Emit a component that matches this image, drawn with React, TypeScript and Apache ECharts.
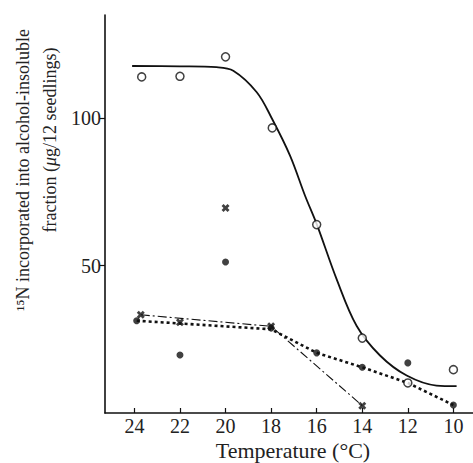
import React, { useEffect, useRef } from 'react';
import * as echarts from 'echarts';

// Temperature (°C) tick labels and value-axis tick labels
const tempTicks = [24, 22, 20, 18, 16, 14, 12, 10];
const valueTicks = [50, 100];

// Measured points: [temperature, µg/12 seedlings]
const openCircles = [[23.68, 114], [22, 114.2], [20, 120.8], [17.95, 96.7], [16, 63.9], [14, 25.4], [12, 10.2], [10, 14.7]];
const filledDots = [[23.9, 31.3], [22, 19.7], [20, 51.2], [18, 28.8], [16, 20.4], [14, 15.5], [12, 17], [10, 2.7]];
const crosses = [[23.72, 33.3], [22, 30.8], [20, 69.5], [18, 29.4], [14, 2.5]];

// Fitted / hand-drawn lines
const fittedCurve = [[24.1, 117.7], [22, 117.6], [20.4, 117.3], [19.66, 116.1], [18.63, 108.8], [17.96, 99.8], [17.17, 87.3], [16.51, 73.7], [15.99, 63.9], [15.13, 45.5], [14.25, 29.6], [13.22, 19.5], [12.05, 12.7], [10.74, 9.3], [9.86, 9.1]];
const dottedLine = [[23.9, 31.3], [18, 28.4], [16, 20.4], [14, 15.5], [12, 10.2], [10, 2.7]];
const dashDotLine = [[23.72, 33.3], [18, 29.4], [14, 2.5]];

const FONT = '"Liberation Serif", "Times New Roman", serif';
const CROSS = 'path://M0,2.5 L2.5,0 L5,2.5 L7.5,0 L10,2.5 L7.5,5 L10,7.5 L7.5,10 L5,7.5 L2.5,10 L0,7.5 L2.5,5 Z';

export default function App() {
  const ref = useRef<HTMLDivElement>(null);
  useEffect(() => {
    if (!ref.current) return;
    const chart = echarts.init(ref.current, undefined, { renderer: 'svg' });
    chart.setOption({
      animation: false,
      backgroundColor: '#fff',
      grid: { left: 105, right: 0, top: 15, bottom: 50, containLabel: false },
      xAxis: {
        type: 'value',
        inverse: true,
        min: 9.14,
        max: 25.29,
        splitLine: { show: false },
        axisLine: { show: true, onZero: false, lineStyle: { color: '#111', width: 1.6 } },
        axisTick: { show: true, inside: true, length: 5, customValues: tempTicks, lineStyle: { color: '#111', width: 1.2 } },
        axisLabel: { customValues: tempTicks, fontSize: 20, fontFamily: FONT, color: '#222', margin: 3 },
      },
      yAxis: {
        type: 'value',
        min: 0,
        max: 135,
        splitLine: { show: false },
        axisLine: { show: true, onZero: false, lineStyle: { color: '#111', width: 1.6 } },
        axisTick: { show: true, inside: false, length: 5, customValues: valueTicks, lineStyle: { color: '#111', width: 1.2 } },
        axisLabel: { customValues: valueTicks, fontSize: 20, fontFamily: FONT, color: '#222', margin: 4 },
      },
      graphic: [
        {
          type: 'text', x: 23, y: 170, rotation: Math.PI / 2,
          style: { text: '¹⁵N incorporated into alcohol-insoluble', font: '18px ' + FONT, fill: '#222', align: 'center', verticalAlign: 'middle' },
        },
        {
          type: 'text', x: 50, y: 140, rotation: Math.PI / 2,
          style: {
            text: '{n|fraction (}{i|μ}{n|g/12 seedlings)}', fill: '#222', align: 'center', verticalAlign: 'middle',
            rich: {
              n: { fontSize: 18, fontFamily: FONT, fill: '#222' },
              i: { fontSize: 18, fontFamily: FONT, fontStyle: 'italic', fill: '#222' },
            },
          },
        },
        {
          type: 'text', x: 293, y: 451, scaleX: 1.1,
          style: { text: 'Temperature (°C)', font: '20px ' + FONT, fill: '#222', align: 'center', verticalAlign: 'middle' },
        },
      ],
      series: [
        {
          type: 'line', data: fittedCurve, smooth: 0.35, symbol: 'none',
          lineStyle: { color: '#111', width: 1.8 }, z: 2,
        },
        {
          type: 'line', data: dottedLine, smooth: false, symbol: 'none',
          lineStyle: { color: '#111', width: 2.6, type: [3, 3] }, z: 2,
        },
        {
          type: 'line', data: dashDotLine, smooth: false, symbol: 'none',
          lineStyle: { color: '#111', width: 1.1, type: [9, 3, 2, 3] }, z: 2,
        },
        {
          type: 'scatter', data: openCircles, symbol: 'circle', symbolSize: 8,
          itemStyle: { color: '#fff', borderColor: '#111', borderWidth: 1.5 }, z: 4,
        },
        {
          type: 'scatter', data: filledDots, symbol: 'circle', symbolSize: 7,
          itemStyle: { color: '#111' }, z: 4,
        },
        {
          type: 'scatter', data: crosses, symbol: CROSS, symbolSize: 8,
          itemStyle: { color: '#111' }, z: 4,
        },
      ],
    });
    return () => chart.dispose();
  }, []);
  return <div ref={ref} style={{ position: 'fixed', left: 0, top: 0, width: 473, height: 463 }} />;
}
